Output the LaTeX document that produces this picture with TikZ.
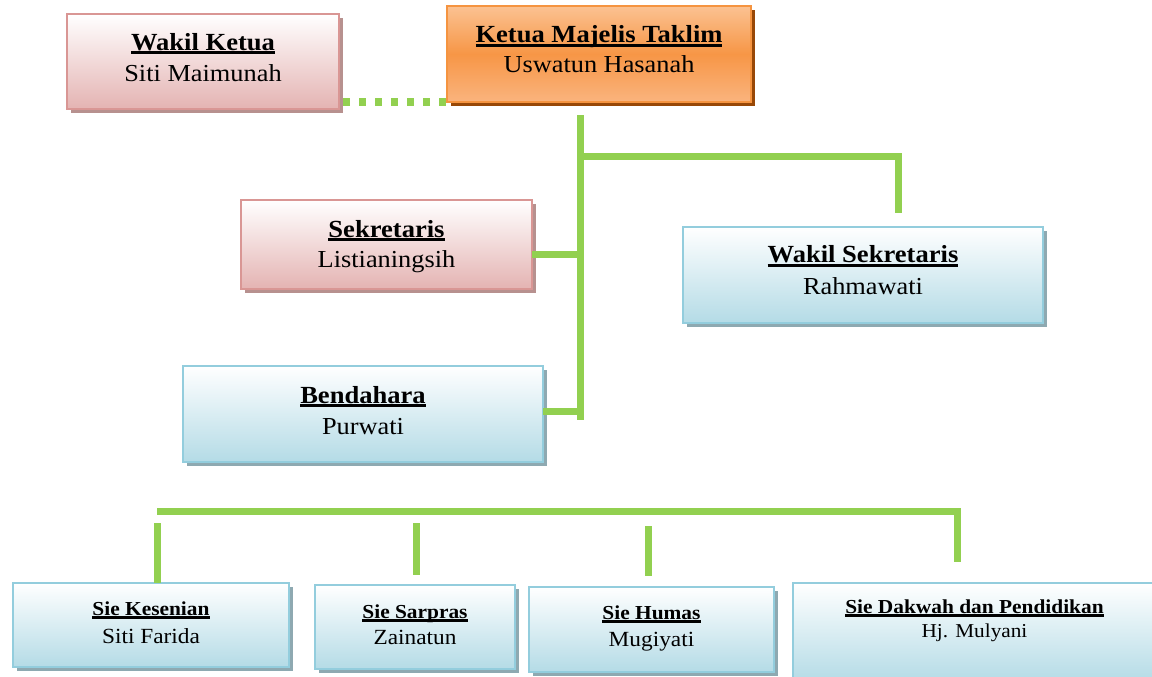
\documentclass[tikz,border=0pt]{standalone}
\usepackage{fontspec}
\setmainfont{Liberation Serif}[FakeStretch=1.08]
\usetikzlibrary{shadows}
\definecolor{grn}{HTML}{92D050}
\definecolor{pinkline}{HTML}{D99694}
\definecolor{pinkfill}{HTML}{E4B3B2}
\definecolor{pinkshadow}{HTML}{B7918F}
\definecolor{blueline}{HTML}{93CDDD}
\definecolor{bluefill}{HTML}{B4DBE6}
\definecolor{blueshadow}{HTML}{8EA9B1}
\definecolor{orline}{HTML}{F59440}
\definecolor{ortop}{HTML}{FBC292}
\definecolor{ormid}{HTML}{F79646}
\definecolor{orbot}{HTML}{FAB47E}
\definecolor{orshadow}{HTML}{984807}
\newcommand\ulx[2]{\setbox0=\hbox{#2}\rlap{\vrule height -1pt depth #1 width \wd0}\box0}
\tikzset{
  boxbase/.style={rectangle, inner sep=0pt, outer sep=0pt, line width=2.5pt},
  pinkbox/.style={boxbase, draw=pinkline, top color=white, bottom color=pinkfill,
     drop shadow={shadow xshift=4pt, shadow yshift=-4pt, fill=pinkshadow, opacity=1}},
  bluebox/.style={boxbase, draw=blueline, top color=white, bottom color=bluefill,
     drop shadow={shadow xshift=4pt, shadow yshift=-4pt, fill=blueshadow, opacity=1}},
  orbox/.style={boxbase, draw=orline, top color=ortop, bottom color=orbot, middle color=ormid,
     drop shadow={shadow xshift=4pt, shadow yshift=-4pt, fill=orshadow, opacity=1}},
  ttl/.style={anchor=base, inner sep=0pt, font=\fontsize{24.6}{29}\selectfont\bfseries},
  nm/.style={anchor=base, inner sep=0pt, font=\fontsize{24.4}{29}\selectfont},
  sttl/.style={anchor=base, inner sep=0pt, font=\fontsize{19.8}{24}\selectfont\bfseries},
  snm/.style={anchor=base, inner sep=0pt, font=\fontsize{21.6}{26}\selectfont},
  gline/.style={draw=grn, line width=7pt},
  dotline/.style={draw=grn, line width=7pt, dash pattern=on 7pt off 9pt, dash phase=12pt}
}
\begin{document}
\begin{tikzpicture}[x=1pt, y=-1pt]
\useasboundingbox (0,0) rectangle (1152,677);
\clip (0,0) rectangle (1152,677);
% boxes (top level)
\node[pinkbox, minimum width=272pt, minimum height=95pt] (wk) at (203,61.5) {};
\node[orbox, minimum width=304pt, minimum height=96pt] (ket) at (599,54) {};
\node[pinkbox, minimum width=291pt, minimum height=89pt] (sek) at (386.5,244.5) {};
\node[bluebox, minimum width=360pt, minimum height=96pt] (wsek) at (863,275) {};
\node[bluebox, minimum width=360pt, minimum height=96pt] (ben) at (363,414) {};
% bottom boxes
\node[bluebox, minimum width=276pt, minimum height=84pt] (kes) at (151,625) {};
\node[bluebox, minimum width=200pt, minimum height=84pt] (sar) at (415,627) {};
\node[bluebox, minimum width=245pt, minimum height=85pt] (hum) at (651.5,629.5) {};
\node[bluebox, minimum width=363pt, minimum height=99pt] (dak) at (974.5,632.5) {};
% connector coordinates
\coordinate (t0) at (580,115);
\coordinate (t1) at (580,420);
\coordinate (b0) at (580,156);
\coordinate (b1) at (898,156);
\coordinate (b2) at (898,213);
\coordinate (s0) at (580,254);
\coordinate (e0) at (580,411);
\coordinate (h0) at (157,511.5);
\coordinate (h1) at (957.5,511.5);
\coordinate (h2) at (957.5,562);
\coordinate (d1a) at (157,523);
\coordinate (d2a) at (416.5,523);
\coordinate (d3a) at (648,526);
% connectors
\draw[dotline] (wk.east |- ket.south) -- (ket.west |- ket.south);
\draw[gline] (t0) -- (t1);
\draw[gline] (b0) -- (b1) -- (b2);
\draw[gline] (sek.east |- s0) -- (s0);
\draw[gline] (ben.east |- e0) -- (e0);
\draw[gline] (h0) -- (h1) -- (h2);
\draw[gline] (d1a) -- (d1a |- kes.north);
\draw[gline] (d2a) -- ([yshift=10pt]d2a |- sar.north);
\draw[gline] (d3a) -- ([yshift=11pt]d3a |- hum.north);
% texts
\node[ttl] (wkT) at ([yshift=-36.5pt]wk.north) {\ulx{4pt}{Wakil Ketua}};
\node[nm] (wkN) at ([yshift=-67.5pt]wk.north) {Siti Maimunah};
\node[ttl] (ketT) at ([yshift=-37pt]ket.north) {\ulx{4pt}{Ketua Majelis Taklim}};
\node[nm] (ketN) at ([yshift=-67pt]ket.north) {Uswatun Hasanah};
\node[ttl] (sekT) at ([yshift=-37pt]sek.north) {\ulx{4pt}{Sekretaris}};
\node[nm] (sekN) at ([yshift=-67pt]sek.north) {Listianingsih};
\node[ttl] (wsekT) at ([yshift=-35.5pt]wsek.north) {\ulx{4pt}{Wakil Sekretaris}};
\node[nm] (wsekN) at ([yshift=-67pt]wsek.north) {Rahmawati};
\node[ttl] (benT) at ([yshift=-37pt]ben.north) {\ulx{4pt}{Bendahara}};
\node[nm] (benN) at ([yshift=-68pt]ben.north) {Purwati};
\node[sttl] (kesT) at ([yshift=-32pt]kes.north) {\ulx{4pt}{Sie Kesenian}};
\node[snm] (kesN) at ([yshift=-60pt]kes.north) {Siti Farida};
\node[sttl] (sarT) at ([yshift=-33pt]sar.north) {\ulx{4pt}{Sie Sarpras}};
\node[snm] (sarN) at ([yshift=-59pt]sar.north) {Zainatun};
\node[sttl] (humT) at ([yshift=-32pt]hum.north) {\ulx{4pt}{Sie Humas}};
\node[snm] (humN) at ([yshift=-59.5pt]hum.north) {Mugiyati};
\node[sttl] (dakT) at ([yshift=-30pt]dak.north) {\ulx{4pt}{Sie Dakwah dan Pendidikan}};
\node[snm, font=\fontsize{19.7}{24}\selectfont] (dakN) at ([yshift=-54pt]dak.north) {Hj. Mulyani};
\end{tikzpicture}
\end{document}
